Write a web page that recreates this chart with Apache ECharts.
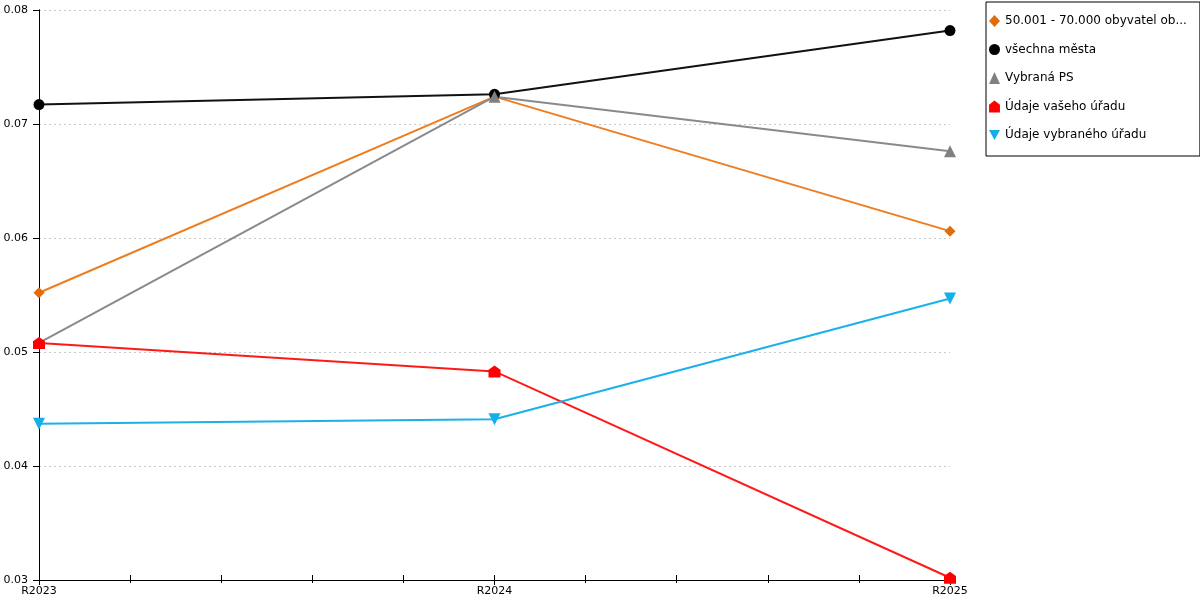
<!DOCTYPE html>
<html>
<head>
	<meta charset="utf-8">
	<title>Graf</title>
	<script src="https://cdn.jsdelivr.net/npm/echarts@6/dist/echarts.min.js"></script>
	<style>
		html, body { margin: 0; padding: 0; background: #fff; }
		#chart { width: 1200px; height: 600px; }
	</style>
</head>
<body>
	<div id="chart"></div>
	<script>
		var categories = ['R2023', 'R2024', 'R2025'];
		var yTicks = [0.03, 0.04, 0.05, 0.06, 0.07, 0.08];

		var names = [
			'50.001 - 70.000 obyvatel obce s rozšířenou působností',
			'všechna města',
			'Vybraná PS',
			'Údaje vašeho úřadu',
			'Údaje vybraného úřadu'
		];
		var skupina = [0.0552, 0.0724, 0.0606];
		var vsechnaMesta = [0.0717, 0.0726, 0.0782];
		var vybranaPS = [0.0508, 0.0724, 0.0676];
		var vasUrad = [0.0508, 0.0483, 0.0302];
		var vybranyUrad = [0.0437, 0.0441, 0.0547];

		var colors = ['#ee7d1f', '#111111', '#8a8a8a', '#ff1a1a', '#1ab1ea'];
		var markerColors = ['#e06c0c', '#000000', '#808080', '#ff0000', '#14aee8'];
		var houseIcon = 'path://M5,0 L10,4 L10,11 L0,11 L0,4 Z';
		var downIcon = 'path://M0,0 L10,0 L5,9 Z';
		var symbols = ['diamond', 'circle', 'triangle', houseIcon, downIcon];
		var sizes = [11, 11, 12, 12, 12];

		function pairs(values) {
			return values.map(function (v, i) { return [i, v]; });
		}

		var allValues = [skupina, vsechnaMesta, vybranaPS, vasUrad, vybranyUrad];
		var series = allValues.map(function (vals, i) {
			return {
				name: names[i],
				type: 'line',
				data: pairs(vals),
				symbol: symbols[i],
				symbolSize: sizes[i],
				showAllSymbol: true,
				lineStyle: { color: colors[i], width: 2 },
				itemStyle: { color: markerColors[i] },
				emphasis: { disabled: true },
				animation: false
			};
		});

		var chart = echarts.init(document.getElementById('chart'));
		var font = 'DejaVu Sans';
		chart.setOption({
			backgroundColor: '#fff',
			grid: { left: 39, right: 250, top: 10, bottom: 20, containLabel: false },
			legend: {
				orient: 'vertical',
				left: 986,
				top: 2,
				padding: [13, 13, 15, 3],
				itemGap: 16.5,
				itemWidth: 11,
				itemHeight: 12,
				borderColor: '#000',
				borderWidth: 1,
				selectedMode: false,
				textStyle: {
					fontFamily: font, fontSize: 12, color: '#000',
					width: 190, overflow: 'truncate', ellipsis: '...'
				},
				data: names.map(function (n, i) {
					return { name: n, icon: symbols[i], itemStyle: { color: markerColors[i] } };
				})
			},
			xAxis: [{
				type: 'value',
				min: 0, max: 2, interval: 1,
				axisLine: { show: true, lineStyle: { color: '#000', width: 1 } },
				axisTick: { show: true, length: 5, lineStyle: { color: '#000' } },
				minorTick: { show: true, splitNumber: 5, length: 3, lineStyle: { color: '#000' } },
				splitLine: { show: false },
				axisLabel: {
					fontFamily: font, fontSize: 11, color: '#000', margin: 6,
					formatter: function (v) { return categories[v] || ''; }
				}
			}, {
				type: 'value',
				position: 'bottom',
				min: 0, max: 2, interval: 1,
				axisLine: { show: false },
				axisTick: { show: true, inside: true, length: 5, lineStyle: { color: '#000' } },
				minorTick: { show: true, splitNumber: 5, length: 5, lineStyle: { color: '#000' } },
				splitLine: { show: false },
				axisLabel: { show: false }
			}],
			yAxis: [{
				type: 'value',
				min: yTicks[0], max: yTicks[yTicks.length - 1], interval: 0.01,
				axisLine: { show: true, lineStyle: { color: '#000', width: 1 } },
				axisTick: { show: true, length: 6, lineStyle: { color: '#000' } },
				splitLine: { show: true, lineStyle: { color: '#c8c8c8', type: [2, 3], width: 1 } },
				axisLabel: {
					fontFamily: font, fontSize: 11, color: '#000', margin: 11,
					formatter: function (v) { return v.toFixed(2); }
				}
			}, {
				type: 'value',
				position: 'right',
				min: yTicks[0], max: yTicks[yTicks.length - 1], interval: 0.01,
				axisLine: { show: true, lineStyle: { color: '#000', width: 1 } },
				axisTick: { show: false },
				splitLine: { show: false },
				axisLabel: { show: false }
			}],
			series: series
		});
	</script>
</body>
</html>
